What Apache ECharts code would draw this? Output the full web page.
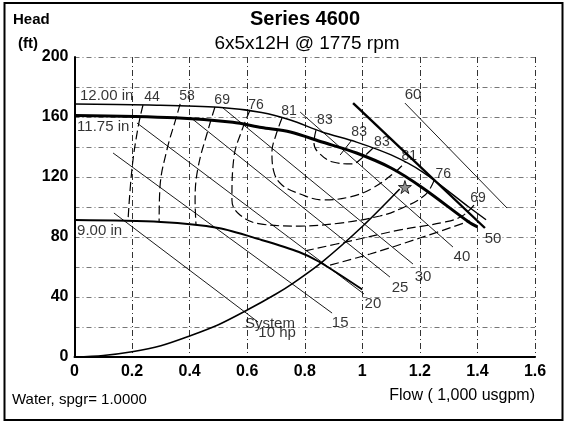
<!DOCTYPE html>
<html>
<head>
<meta charset="utf-8">
<script src="https://cdn.jsdelivr.net/npm/echarts@6/dist/echarts.min.js"></script>
<style>
  html, body { margin: 0; padding: 0; background: #fff; }
  #chart { width: 565px; height: 422px; }
</style>
</head>
<body>
<div id="chart"></div>
<script>
// impeller curves  [flow (1,000 usgpm), head (ft)]
var imp1200 = [[0, 168.7], [0.26, 168], [0.5, 166.5], [0.65, 163], [0.75, 158], [0.86, 150], [0.98, 143.3], [1.1, 134.7], [1.21, 123.3], [1.37, 100], [1.43, 91.5]]
var imp1175 = [[0, 161], [0.35, 159.5], [0.55, 156.5], [0.65, 153], [0.75, 150], [0.86, 143.3], [0.98, 136], [1.1, 126], [1.21, 112.7], [1.37, 90], [1.4, 86.7]]
var imp900 = [[0, 91.3], [0.3, 90], [0.5, 86], [0.65, 78], [0.78, 70], [0.85, 63.5], [1.0, 45]]
var impNames = ['12.00 in', '11.75 in', '9.00 in']
var impLabelAt = [[0.019, 174], [0.009, 153.3], [0.009, 84]]

// system curve
var systemCurve = [[0, 0], [0.1, 1], [0.2, 3.5], [0.3, 7.5], [0.4, 14], [0.5, 21.5], [0.6, 31.3], [0.7, 42], [0.76, 49.3], [0.86, 63.3], [1.0, 87], [1.13, 112]]
var bestPoint = [1.148, 113.3]

// horsepower lines
var hpNames = ['10 hp', '15', '20', '25', '30', '40', '50', '60']
var hpStart = [[0.137, 96], [0.134, 136], [0.217, 156], [0.401, 160], [0.516, 166], [0.784, 163.3], [0.968, 169.3], [1.148, 169.3]]
var hpEnd = [[0.638, 23.3], [0.895, 29.3], [1.006, 42], [1.096, 53.3], [1.176, 62], [1.315, 73.3], [1.426, 86], [1.503, 99.3]]
var hpLabelAt = [[0.704, 16], [0.923, 22.7], [1.037, 35.3], [1.131, 46], [1.211, 53.3], [1.346, 66.7], [1.454, 78.7], [1.176, 174.7]]
var hpBold = '50'

// efficiency contours (%)
var eff44 = [[0.238, 168], [0.221, 153.3], [0.2, 126], [0.186, 91.3]]
var eff58 = [[0.367, 168.7], [0.353, 159.3], [0.321, 138], [0.297, 113.3], [0.294, 90.7]]
var eff58b = [[0.888, 61.3], [1.027, 68.7], [1.2, 79.3], [1.374, 90.7]]
var eff69 = [[0.488, 166.7], [0.464, 151.3], [0.429, 126], [0.419, 104.7], [0.422, 88.7]]
var eff69b = [[0.801, 70.7], [0.957, 77.3], [1.131, 84.7], [1.288, 90], [1.347, 94], [1.388, 101.3]]
var eff76 = [[0.61, 164.7], [0.582, 151.3], [0.554, 133.3], [0.547, 104.7], [0.575, 94.7], [0.645, 88.7], [0.784, 87.3], [0.923, 89.3], [1.061, 94], [1.131, 98.7], [1.218, 108], [1.25, 118]]
var eff81 = [[0.721, 159.3], [0.7, 148], [0.686, 136.7], [0.693, 123.3], [0.721, 114.7], [0.784, 108.7], [0.863, 104.7], [0.957, 106.7], [1.037, 112.7], [1.114, 123.3], [1.15, 130]]
var eff83 = [[0.839, 151.3], [0.832, 142.7], [0.846, 136.7], [0.898, 130], [0.964, 128.7], [0.999, 132.7], [1.041, 140]]
var eff83tick = [[0.923, 134.7], [0.964, 144.7]]
var effText = ['44', '58', '69', '76', '81', '83', '83', '83', '81', '76', '69']
var effLabelAt = [[0.269, 173.3], [0.391, 174], [0.513, 171.3], [0.631, 168], [0.745, 164], [0.87, 158], [0.989, 150], [1.068, 143.3], [1.163, 134], [1.281, 122], [1.402, 106]]

var xTicks = [0, 1.6, 0.2]
var yTicks = [0, 200, 20]

var FONT = "'Liberation Sans', Arial, sans-serif"
var chart = echarts.init(document.getElementById('chart'))

function line (data, width, dashed, smooth) {
  return {
    type: 'line', data: data, symbol: 'none', silent: true, smooth: smooth || false,
    lineStyle: { color: '#000', width: width, type: dashed ? [9, 4] : 'solid' },
    z: 3
  }
}

function labels (pos, text, size, position) {
  return {
    type: 'scatter', symbolSize: 0, silent: true, z: 5,
    data: pos.map(function (p, i) { return { value: p, name: text[i] } }),
    label: {
      show: true, formatter: '{b}', position: position || 'inside', distance: 0,
      color: '#000', fontFamily: FONT, fontSize: size
    }
  }
}

var series = []
series.push(line(imp1200, 1.4, false, 0.3))
series.push(line(imp1175, 3, false, 0.3))
series.push(line(imp900, 2, false, 0.3))
series.push(line(systemCurve, 1.6, false, 0.3))
hpNames.forEach(function (n, i) {
  series.push(line([hpStart[i], hpEnd[i]], n === hpBold ? 2.4 : 0.9, false))
})
;[eff44, eff58, eff58b, eff69, eff69b, eff76, eff81, eff83].forEach(function (d) {
  series.push(line(d, 1.2, true, 0.4))
})
series.push(line(eff83tick, 1, false))
series.push(labels(effLabelAt, effText, 14))
series.push(labels(hpLabelAt, hpNames, 15))
series.push(labels(impLabelAt, impNames, 15, 'right'))
series.push(labels([[0.679, 22]], ['System'], 15))
series.push({
  type: 'scatter', silent: true, z: 6, data: [bestPoint], symbolSize: 13,
  symbol: 'path://M50,0 L61,35 L98,35 L68,57 L79,91 L50,70 L21,91 L32,57 L2,35 L39,35 Z',
  itemStyle: { color: '#777', borderColor: '#000', borderWidth: 1 }
})

chart.setOption({
  animation: false,
  grid: { left: 74.5, right: 30, top: 57, bottom: 65 },
  xAxis: {
    type: 'value', min: xTicks[0], max: xTicks[1], interval: xTicks[2],
    axisLine: { lineStyle: { color: '#000', width: 2 } },
    axisTick: { show: false },
    axisLabel: { color: '#000', fontFamily: FONT, fontSize: 16, fontWeight: 'bold', margin: 7 },
    splitLine: { show: true, lineStyle: { color: '#333', width: 1, type: [6, 3, 1, 3] } }
  },
  yAxis: {
    type: 'value', min: yTicks[0], max: yTicks[1], interval: yTicks[2],
    axisLine: { show: true, lineStyle: { color: '#000', width: 2 } },
    axisTick: { show: false },
    axisLabel: {
      color: '#000', fontFamily: FONT, fontSize: 16, fontWeight: 'bold', margin: 6,
      formatter: function (v) { return v % 40 === 0 ? String(v) : '' }
    },
    splitLine: { show: true, lineStyle: { color: '#777', width: 1, type: [5, 3, 1, 3] } }
  },
  graphic: [
    { type: 'rect', shape: { x: 4.5, y: 3, width: 558, height: 417 }, style: { fill: 'none', stroke: '#000', lineWidth: 2 } },
    { type: 'text', x: 305, y: 19, style: { text: 'Series 4600', fontFamily: FONT, fontSize: 20, fontWeight: 'bold', textAlign: 'center', textVerticalAlign: 'middle', fill: '#000' } },
    { type: 'text', x: 307, y: 44, style: { text: '6x5x12H @ 1775 rpm', fontFamily: FONT, fontSize: 19, textAlign: 'center', textVerticalAlign: 'middle', fill: '#000' } },
    { type: 'text', x: 13, y: 20, style: { text: 'Head', fontFamily: FONT, fontSize: 15, fontWeight: 'bold', textVerticalAlign: 'middle', fill: '#000' } },
    { type: 'text', x: 18, y: 44, style: { text: '(ft)', fontFamily: FONT, fontSize: 15, fontWeight: 'bold', textVerticalAlign: 'middle', fill: '#000' } },
    { type: 'text', x: 12, y: 400, style: { text: 'Water, spgr= 1.0000', fontFamily: FONT, fontSize: 15, textVerticalAlign: 'middle', fill: '#000' } },
    { type: 'text', x: 535, y: 396, style: { text: 'Flow ( 1,000 usgpm)', fontFamily: FONT, fontSize: 16, textAlign: 'right', textVerticalAlign: 'middle', fill: '#000' } }
  ],
  series: series
})
</script>
</body>
</html>
